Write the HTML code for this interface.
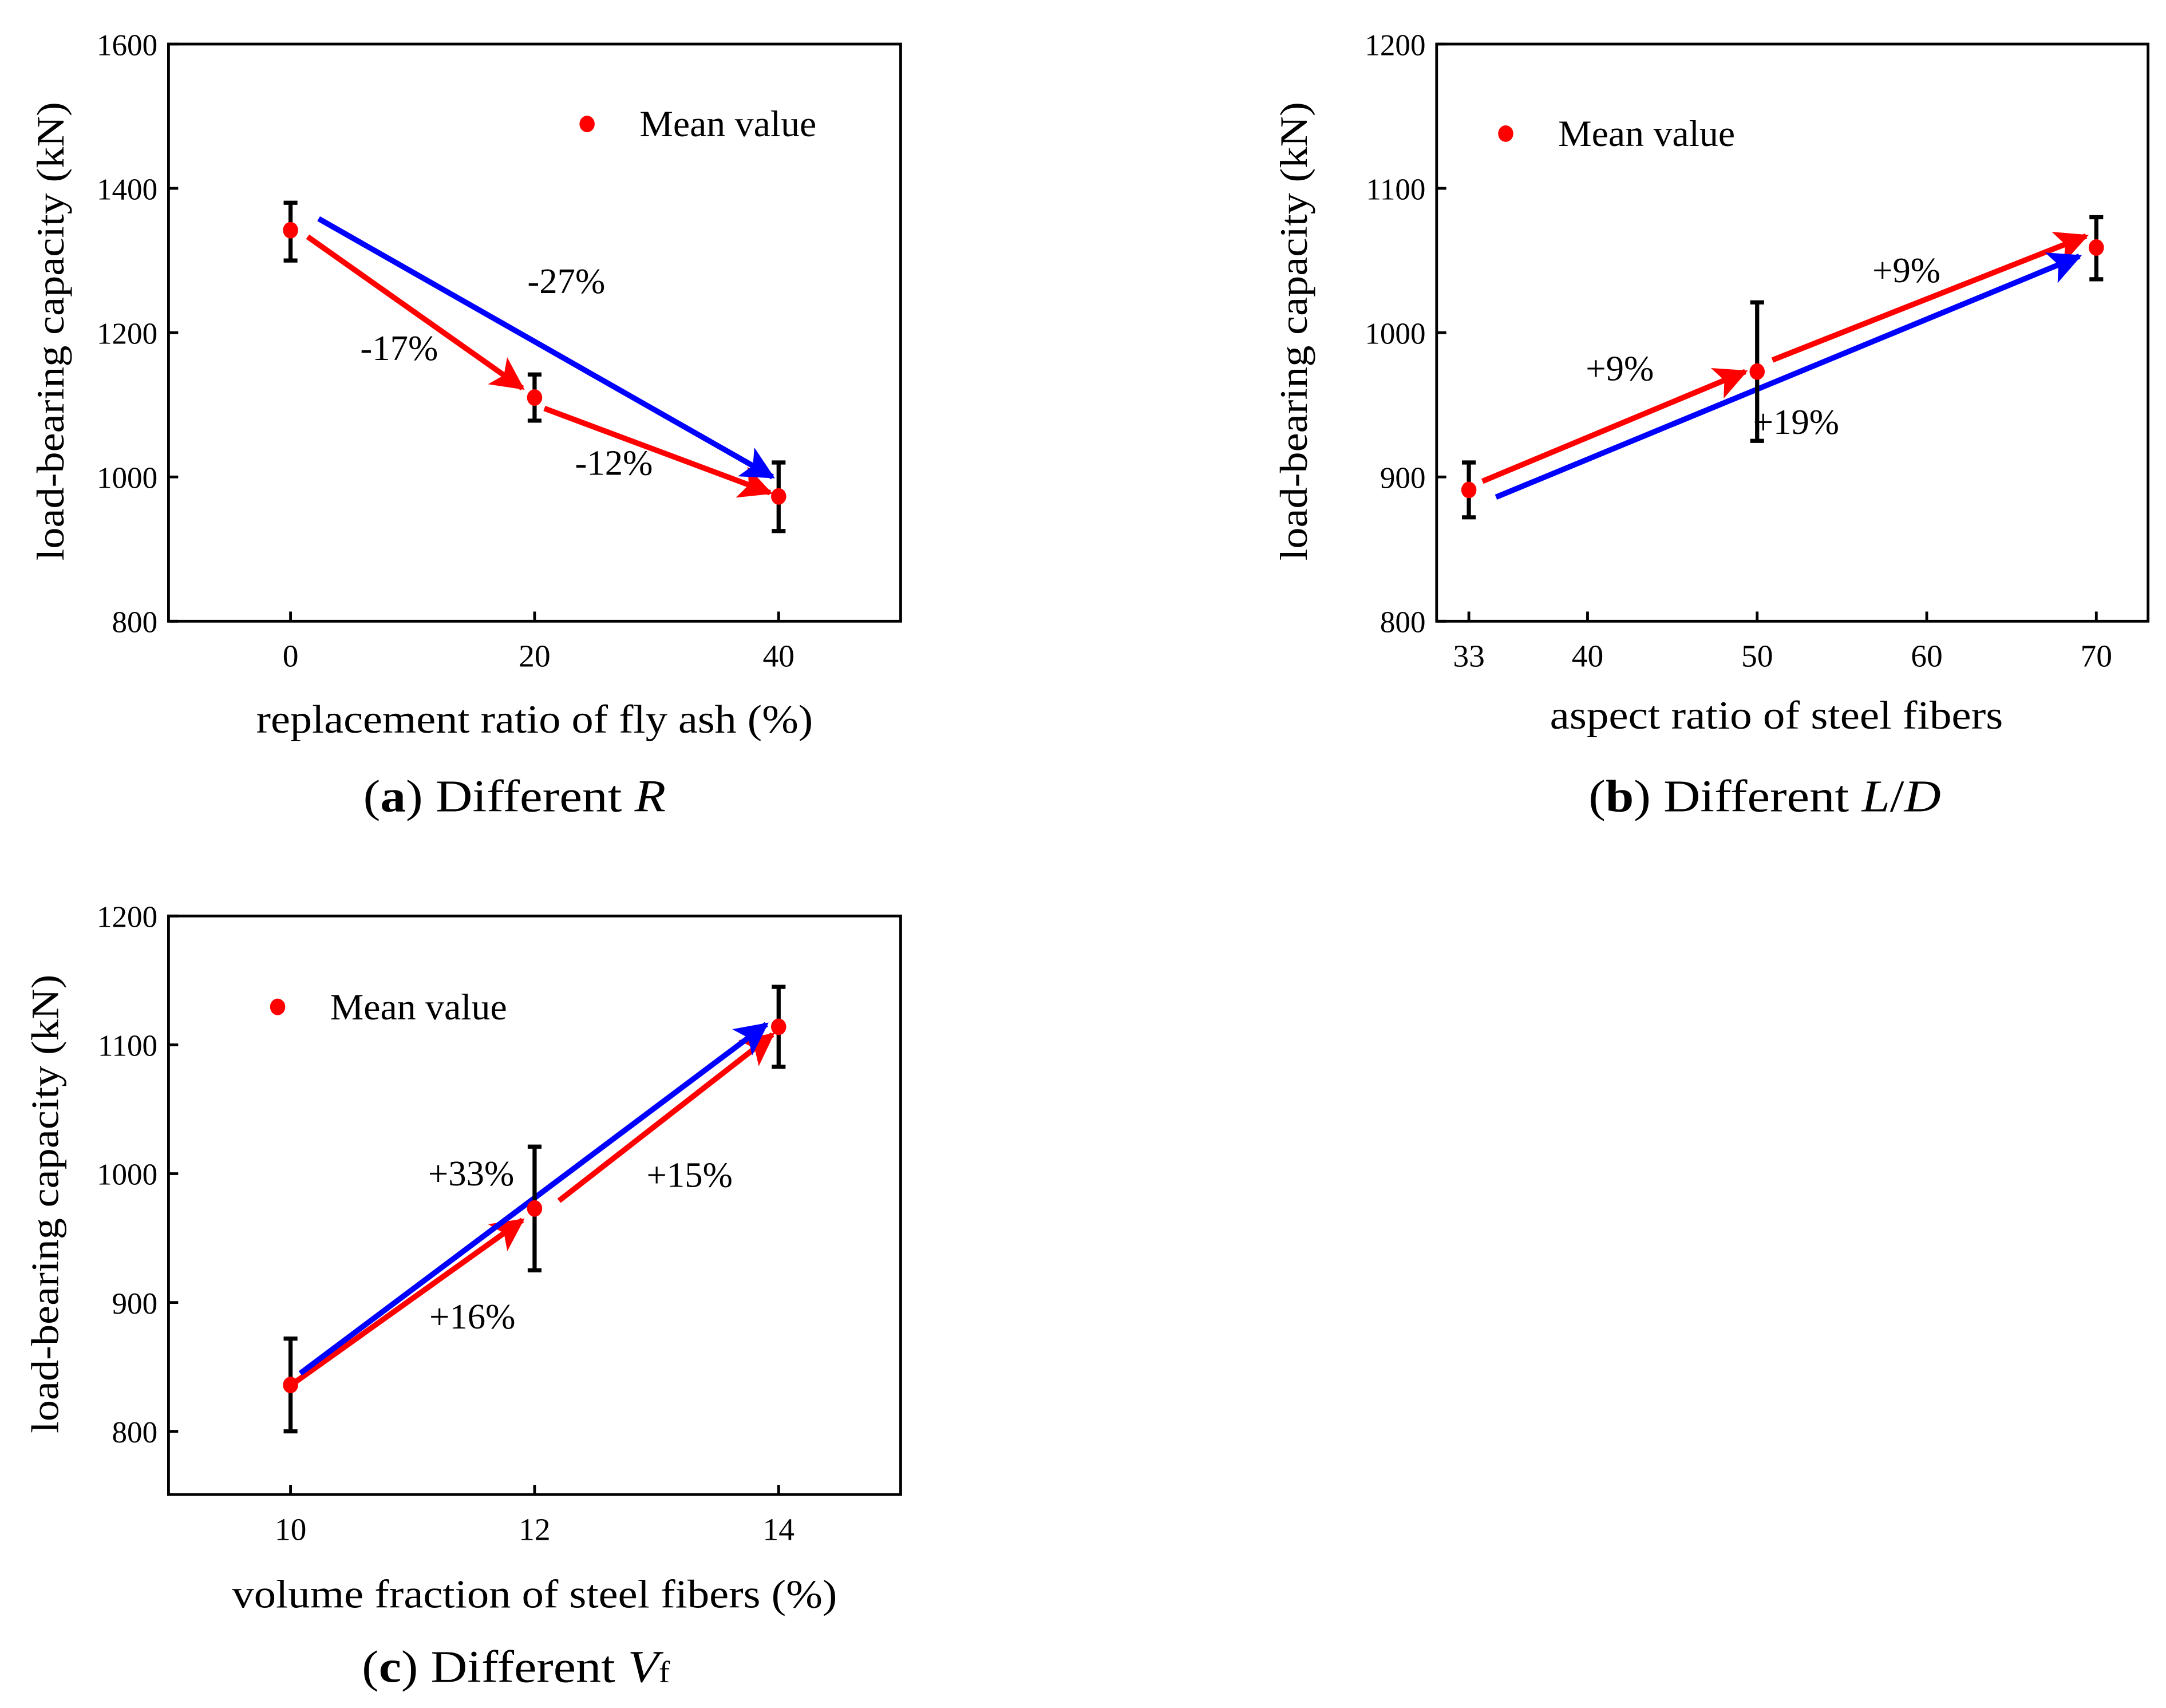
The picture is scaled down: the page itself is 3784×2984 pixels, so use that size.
<!DOCTYPE html>
<html><head><meta charset="utf-8"><style>
html,body{margin:0;padding:0;background:#fff}
svg{display:block}
text{font-family:"Liberation Serif",serif;fill:#000}
</style></head><body>
<svg id="fig" width="3784" height="2984" viewBox="0 0 1568 1240" preserveAspectRatio="none" xmlns="http://www.w3.org/2000/svg">
<defs>
<marker id="hr" markerWidth="7" markerHeight="7" refX="5.5" refY="3.5" orient="auto" markerUnits="strokeWidth"><path d="M0,0.5 L6,3.5 L0,6.5 L1.4,3.5 Z" fill="#f00"/></marker>
<marker id="hb" markerWidth="7" markerHeight="7" refX="5.5" refY="3.5" orient="auto" markerUnits="strokeWidth"><path d="M0,0.5 L6,3.5 L0,6.5 L1.4,3.5 Z" fill="#00f"/></marker>
</defs>
</svg>
<script>
// Panel a data
const aX = [0, 20, 40];
const aMean = [1342, 1110, 973];
const aLo = [1300, 1078, 925];
const aHi = [1380, 1142, 1020];
const aXTicks = [0, 20, 40];
const aYTicks = [800, 1000, 1200, 1400, 1600];
// Panel b data
const bX = [33, 50, 70];
const bMean = [891, 973, 1059];
const bLo = [872, 925, 1037];
const bHi = [910, 1021, 1080];
const bXTicks = [33, 40, 50, 60, 70];
const bYTicks = [800, 900, 1000, 1100, 1200];
// Panel c data
const cX = [10, 12, 14];
const cMean = [836, 973, 1114];
const cLo = [800, 925, 1083];
const cHi = [872, 1021, 1145];
const cXTicks = [10, 12, 14];
const cYTicks = [800, 900, 1000, 1100, 1200];

const NS = "http://www.w3.org/2000/svg";
const svg = document.getElementById('fig');
function mk(tag, attrs, parent, txt){
  const e = document.createElementNS(NS, tag);
  for (const k in attrs) e.setAttribute(k, attrs[k]);
  if (txt !== undefined) e.textContent = txt;
  (parent || svg).appendChild(e);
  return e;
}
function panel(id, box, xd, yd, xs, mean, lo, hi, xt, yt, xtitle, xtLen, xtCx, xtY, capHtml, capX, capLen, capY, legend, arrows, labels, ylabX){
  const g = mk('g', {});
  
  
  const X = v => box.x0 + (v - xd[0]) / (xd[1] - xd[0]) * (box.x1 - box.x0);
  const Y = v => box.y1 - (v - yd[0]) / (yd[1] - yd[0]) * (box.y1 - box.y0);
  const fr = mk('rect', {x: box.x0, y: box.y0, width: box.x1 - box.x0, height: box.y1 - box.y0, fill: 'none', stroke: '#000', 'stroke-width': 2}, g);
  
  
  yt.forEach(v => {
    mk('line', {x1: box.x0, x2: box.x0 + 7, y1: Y(v), y2: Y(v), stroke: '#000', 'stroke-width': 2}, g);
    const t = mk('text', {x: box.x0 - 8, y: Y(v) + 8, 'text-anchor': 'end', 'font-size': 22}, g, v);
    
    
  });
  xt.forEach(v => {
    mk('line', {x1: X(v), x2: X(v), y1: box.y1, y2: box.y1 - 7, stroke: '#000', 'stroke-width': 2}, g);
    const t = mk('text', {x: X(v), y: box.y1 + 33, 'text-anchor': 'middle', 'font-size': 23}, g, v);
    
    
  });
  const yl = mk('text', {x: 0, y: 0, 'text-anchor': 'middle', 'font-size': 28, textLength: 333, lengthAdjust: 'spacingAndGlyphs', transform: `translate(${ylabX},${(box.y0 + box.y1) / 2 - 1}) rotate(-90)`}, g, 'load-bearing capacity (kN)');
  
  
  const xl = mk('text', {x: xtCx, y: box.y1 + xtY, 'text-anchor': 'middle', 'font-size': 29, textLength: xtLen, lengthAdjust: 'spacingAndGlyphs'}, g, xtitle);
  
  
  const cap = mk('text', {x: capX, y: box.y1 + capY, 'font-size': 33, textLength: capLen, lengthAdjust: 'spacingAndGlyphs'}, g);
  cap.innerHTML = capHtml;
  
  
  arrows.forEach(a => {
    const l = mk('line', {x1: X(a[0]), y1: Y(a[1]), x2: X(a[2]), y2: Y(a[3]), stroke: a[4] === 'r' ? '#f00' : '#00f', 'stroke-width': 4, 'marker-end': a[4] === 'r' ? 'url(#hr)' : 'url(#hb)'}, g);
    
    
  });
  labels.forEach(lb => {
    const t = mk('text', {x: X(lb[0]), y: Y(lb[1]) + 9.5, 'text-anchor': 'middle', 'font-size': 26}, g, lb[2]);
    
    
  });
  xs.forEach((v, i) => {
    const eb = mk('path', {d: `M${X(v)},${Y(lo[i])}V${Y(hi[i])}M${X(v)-5},${Y(lo[i])}H${X(v)+5}M${X(v)-5},${Y(hi[i])}H${X(v)+5}`, stroke: '#000', 'stroke-width': 3, fill: 'none'}, g);
    
    
    const c = mk('ellipse', {cx: X(v), cy: Y(mean[i]), rx: 5.5, ry: 6, fill: '#f00'}, g);
    
    
  });
  const ld = mk('ellipse', {cx: legend[0], cy: legend[1], rx: 5.5, ry: 6, fill: '#f00'}, g);
  
  
  const lt = mk('text', {x: legend[0] + 38, y: legend[1] + 9, 'font-size': 27, textLength: 128, lengthAdjust: 'spacingAndGlyphs'}, g, 'Mean value');
  
  
}
panel('a', {x0:122,x1:652,y0:32,y1:451}, [-10,50], [800,1600], aX, aMean, aLo, aHi, aXTicks, aYTicks,
  'replacement ratio of fly ash (%)', 403, 387, 81, '(<tspan font-weight="bold">a</tspan>) Different <tspan font-style="italic">R</tspan>', 263, 219, 138, [425,90],
  [[1.4,1333,19,1123,'r'],[20.8,1095,39.3,978,'r'],[2.3,1358,39.5,1000,'b']],
  [[22.6,1273,'-27%'],[8.9,1180,'-17%'],[26.5,1021,'-12%']], 46);
panel('b', {x0:1040,x1:1555,y0:32,y1:451}, [31.1,73.05], [800,1200], bX, bMean, bLo, bHi, bXTicks, bYTicks,
  'aspect ratio of steel fibers', 328, 1286, 78, '(<tspan font-weight="bold">b</tspan>) Different <tspan font-style="italic">L</tspan>/<tspan font-style="italic">D</tspan>', 1150, 255, 138, [1090,97],
  [[33.8,897,49.3,973,'r'],[50.9,981,69.4,1067,'r'],[34.6,886,69,1053,'b']],
  [[41.9,976,'+9%'],[52.3,939,'+19%'],[58.8,1044,'+9%']], 946);
panel('c', {x0:122,x1:652,y0:665,y1:1085}, [9,15], [751,1200], cX, cMean, cLo, cHi, cXTicks, cYTicks,
  'volume fraction of steel fibers (%)', 438, 387, 82, '(<tspan font-weight="bold">c</tspan>) Different <tspan font-style="italic">V</tspan><tspan font-size="22">f</tspan>', 262, 223, 136, [201,731],
  [[10.05,839,11.9,964,'r'],[12.2,979,13.95,1108,'r'],[10.08,845,13.9,1116,'b']],
  [[11.48,1001,'+33%'],[11.49,890,'+16%'],[13.27,1000,'+15%']], 42);
</script>
</body></html>
